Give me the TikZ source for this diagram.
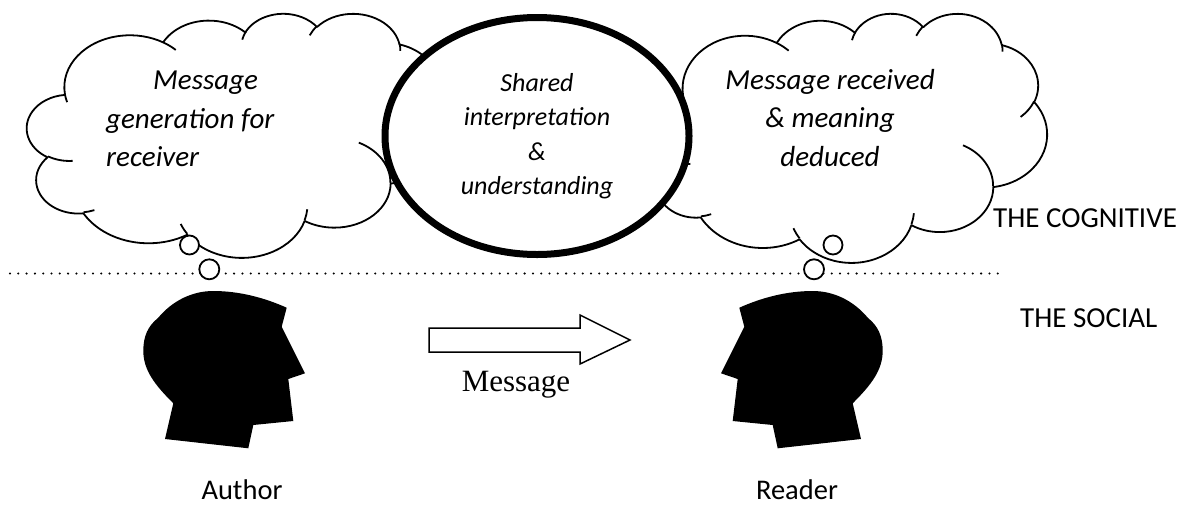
\documentclass[tikz,border=0pt]{standalone}
\usepackage{fontspec}
\setmainfont{Carlito}
\newfontfamily\serifmsg{Liberation Serif}
\usetikzlibrary{shapes.geometric}

% one bump of the cloud outline, angles given as seen from the centre
\newcommand\cloudarc[4]{%
  \pgfextra{%
    \pgfmathsetmacro\cldS{#3}%
    \pgfmathsetmacro\cldE{#3+#4}%
    \pgfmathsetmacro\cldTS{atan2(#1*sin(\cldS),#2*cos(\cldS))}%
    \pgfmathsetmacro\cldTE{atan2(#1*sin(\cldE),#2*cos(\cldE))}%
    \pgfmathsetmacro\cldTD{mod(\cldTE-\cldTS+360,360)}%
  }
  arc[start angle=\cldTS, delta angle=\cldTD, x radius=#1, y radius=#2]%
}

% cloud in a 432 x 432 box: #1,#2 top left corner, #3,#4 scale
\newcommand\wordcloud[4]{%
  \begin{scope}[shift={(#1,#2)}, xscale=#3, yscale=#4]
    \filldraw[cloud_line, fill=white] (39.00,143.70)
      \cloudarc{67.53}{91.90}{-190.4875}{123.7805}
      \cloudarc{53.33}{72.67}{-144.1024}{89.9452}
      \cloudarc{43.65}{59.45}{-145.8079}{99.7230}
      \cloudarc{48.57}{65.95}{-130.9861}{117.2417}
      \cloudarc{53.33}{72.73}{-78.7089}{109.0269}
      \cloudarc{67.75}{92.20}{-46.2673}{130.2690}
      \cloudarc{57.85}{78.67}{0.6250}{114.0333}
      \cloudarc{67.52}{92.15}{22.4516}{115.1726}
      \cloudarc{77.20}{105.43}{66.2426}{75.7110}
      \cloudarc{43.60}{59.18}{-274.9421}{146.7356}
      \cloudarc{43.45}{59.45}{-246.8285}{152.5189}
      -- cycle;
    \draw[cloud_line] (46.93,261.77) \cloudarc{43.45}{59.45}{86.7420}{26.4295};
    \draw[cloud_line] (69.28,348.99) \cloudarc{43.60}{59.18}{73.6105}{11.4475};
    \draw[cloud_line] (164.78,390.90) \cloudarc{67.52}{92.15}{137.6242}{14.0811};
    \draw[cloud_line] (288.27,347.51) \cloudarc{67.52}{92.15}{6.4533}{15.9984};
    \draw[cloud_line] (341.29,229.54) \cloudarc{57.85}{78.67}{-70.2924}{70.9174};
    \draw[cloud_line] (417.98,153.54) \cloudarc{53.33}{72.73}{30.3180}{27.7515};
    \draw[cloud_line] (383.24,54.26) \cloudarc{48.57}{65.95}{-13.7443}{14.8589};
    \draw[cloud_line] (290.78,39.52) \cloudarc{48.57}{65.95}{-149.1815}{18.1954};
    \draw[cloud_line] (221.41,47.20) \cloudarc{43.65}{59.45}{-163.4943}{17.6864};
    \draw[cloud_line] (140.00,51.92) \cloudarc{67.53}{91.90}{-66.7070}{12.3194};
    \draw[cloud_line] (41.27,157.89) \cloudarc{67.53}{91.90}{157.6544}{11.8582};
  \end{scope}}

% side view of a head, facing right
\newcommand\headshape{(286.7,307.7) -- (281.7,326.7) -- (305,373.3) -- (288.3,379)
  -- (293.3,421) -- (253.3,425) -- (248.3,448.3) -- (165,439) -- (173.3,403.3)
  .. controls (155,385) and (143,370) .. (143.3,350)
  .. controls (143.5,336) and (148,326) .. (158,318)
  .. controls (173,300) and (193,291) .. (213.3,291)
  .. controls (240,291) and (265,298) .. (286.7,307.7) -- cycle}

\begin{document}
\begin{tikzpicture}[
		x=1pt, y=1pt, yscale=-1,
		cloud_line/.style={line width=1.8pt, line join=round},
		cloud_text/.style={font=\itshape\fontsize{29}{38.5}\selectfont, inner sep=0pt},
		shared_style/.style={ellipse, draw, line width=7pt, fill=white,
			minimum width=304, minimum height=237, inner sep=0pt, align=center,
			font=\itshape\fontsize{26}{34.5}\selectfont},
		level_text/.style={font=\fontsize{29}{34}\selectfont, inner sep=0pt, anchor=base west},
		who_text/.style={font=\fontsize{28.5}{34}\selectfont, inner sep=0pt, anchor=base},
		bubble/.style={line width=1.8pt, fill=white},
		dot_line/.style={line width=2.3pt, line cap=round, dash pattern=on 0pt off 8.3pt}
	]
  \useasboundingbox (0,0) rectangle (1190,512);

  % thought clouds and the shared ellipse
  \wordcloud{27}{13}{0.9722}{0.5648}
  \wordcloud{647}{13}{0.9259}{0.5764}
  \node (shared_ell) [shared_style] at (537,136) {Shared\\interpretation\\\&\\understanding};

  \node (gen_text) [cloud_text, align=left, anchor=west] at (106,119)
    {\hspace*{47pt}Message\\generation for\\receiver};
  \node (recv_text) [cloud_text, align=center] at (830,118)
    {Message received\\\& meaning\\deduced};

  % cognitive / social divide
  \coordinate (line_l) at (10,273.5);
  \coordinate (line_r) at (1002,273.5);
  \draw[dot_line] (line_l) -- (line_r);
  \node (cog_label) [level_text] at (993,227) {THE COGNITIVE};
  \node (soc_label) [level_text] at (1020,327) {THE SOCIAL};

  \draw[bubble] (189.5,245) circle[radius=9.5];
  \draw[bubble] (209.3,269.3) circle[radius=10];
  \draw[bubble] (833,245) circle[radius=9.5];
  \draw[bubble] (814,269.3) circle[radius=10];

  % the two people
  \fill \headshape;
  \begin{scope}[shift={(1026,0)}, xscale=-1]
    \fill \headshape;
  \end{scope}
  \node (author) [who_text] at (242,499) {Author};
  \node (reader) [who_text] at (797,499) {Reader};

  % message arrow
  \draw[line width=1.5pt, line join=miter] (429,328) -- (580,328) -- (580,315) -- (630,340)
    -- (580,364) -- (580,352) -- (429,352) -- cycle;
  \node (msg_label) [font=\serifmsg\fontsize{31}{36}\selectfont, inner sep=0pt, anchor=base]
    at (516,391) {Message};
\end{tikzpicture}
\end{document}
